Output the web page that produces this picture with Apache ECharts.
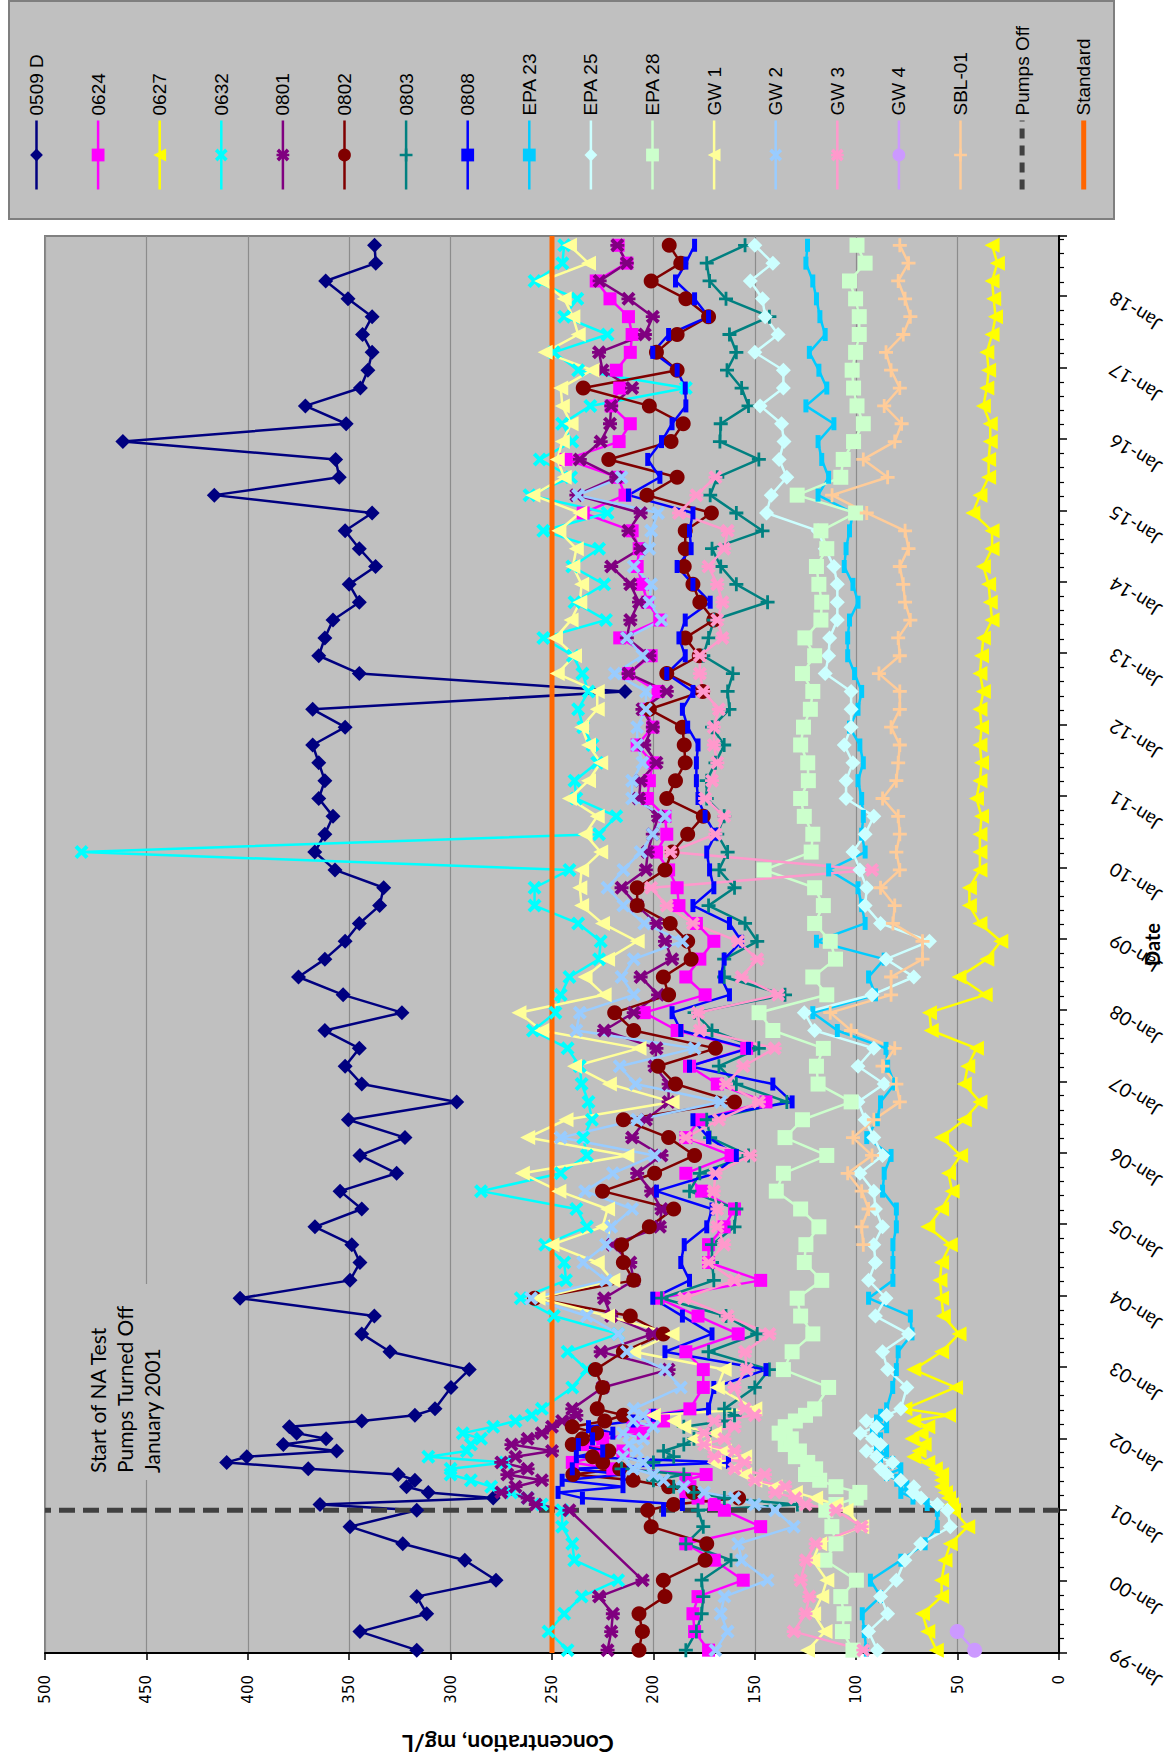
<!DOCTYPE html>
<html><head><meta charset="utf-8">
<script src="https://cdn.jsdelivr.net/npm/echarts/dist/echarts.min.js"></script>
<style>
html,body{margin:0;padding:0;background:#fff;width:1170px;height:1764px;overflow:hidden;}
#chart{position:absolute;left:0;top:0;width:1764px;height:1170px;transform-origin:0 0;transform:translate(0px,1764px) rotate(-90deg);}
</style></head><body><div id="chart"></div>
<script>
// ---- sampling dates (decimal years) ----
const dates = [
 1999.04, 1999.3, 1999.55, 1999.79, 2000.02, 2000.3, 2000.53, 2000.77,
 2001.0, 2001.08, 2001.17, 2001.25, 2001.33, 2001.42, 2001.5, 2001.58, 2001.67, 2001.75, 2001.83, 2001.92, 2002.0, 2002.08, 2002.17, 2002.25, 2002.33, 2002.42,
 2002.72,
 2002.97, 2003.22, 2003.47, 2003.72, 2003.97, 2004.22, 2004.47, 2004.72, 2004.97, 2005.22, 2005.47, 2005.72, 2005.97, 2006.22, 2006.47, 2006.72,
 2006.97, 2007.22, 2007.47, 2007.72, 2007.97, 2008.22, 2008.47, 2008.72, 2008.97, 2009.22, 2009.47, 2009.72, 2009.97, 2010.22, 2010.47, 2010.72,
 2010.97, 2011.22, 2011.47, 2011.72, 2011.97, 2012.22, 2012.47, 2012.72, 2012.97, 2013.22, 2013.47, 2013.72, 2013.97, 2014.22, 2014.47, 2014.72,
 2014.97, 2015.22, 2015.47, 2015.72, 2015.97, 2016.22, 2016.47, 2016.72, 2016.97, 2017.22, 2017.47, 2017.72, 2017.97, 2018.22, 2018.47, 2018.72
];
const yearTicks = {min: 1999, max: 2018.85, interval: 1};
const concTicks = {min: 0, max: 500, interval: 50};
const pumpsOffDate = 2001.0;
const standardValue = 250;

// ---- series values (mg/L), aligned with dates ----
const v0509D = [
 316.7, 344.7, 311.8, 316.7, 277.6, 293, 323.6, 349.6,
 316.7, 364.4, 279, 311, 321.7, 317.6, 325.8, 370.2, 410.4, 400.5, 356.2, 382.5, 361.4, 375.9, 379.5, 343.8, 317.6, 307.7,
 299.8,
 290.8, 329.9, 343.8, 337.6, 403.8, 349.6, 344.7, 348.7, 366.9, 343.8, 354.5, 326.6, 344.7, 322.5, 350.4, 297,
 343.8, 352, 345, 362, 324, 353, 375, 362, 352, 345, 335, 333, 357, 367, 362, 358,
 365, 362, 365, 368, 352, 368, 214, 345, 365, 362, 358, 345, 350, 337, 345, 352,
 338.7, 416.5, 354.9, 356.7, 461.6, 351.5, 371.6, 344.5, 340.8, 338.7, 343.4, 338.7, 350.6, 361.6, 336.9, 337.5
];
const v0624 = [
 172.8, 179.7, 180.5, 178, 155.7, 170, 184, 147.1,
 165, 170, 178, 184, 182, 184, 174, 220, 240, 228, 215, 235, 225, 205, 210, 195, 200, 182,
 175.4,
 175.4, 184, 158.2, 178, 197.7, 147.1, 172.8, 172.8, 165.1, 160, 176.2, 184, 161.7, 184, 177.1, 144.5,
 168.5, 182.2, 154, 188.3, 204.5, 174.5, 184, 177.1, 170.2, 178.8, 187.4, 188.3, 192.5, 198.5, 193.4, 194.3,
 203, 202, 200.3, 208, 200.3, 203.7, 197.7, 212.3, 201.1, 216.6, 196.8, 203, 205.4, 208, 207, 210.5,
 234.6, 214, 217.4, 243.1, 216.9, 211.4, 220.8, 216.6, 218.3, 211.4, 210.5, 212.3, 221.4, 228.2, 213.1, 217.4
];
const v0627 = [
 60.5, 64.7, 67.3, 57.9, 57.9, 56.2, 53.6, 45,
 52, 53, 54.5, 56, 57.9, 57.9, 57.9, 61, 64.7, 71.6, 69, 66.5, 72.5, 68, 64.7, 71.6, 54.5, 76,
 51,
 71.6, 57.9, 49.3, 57, 57.9, 58.7, 57.9, 53.6, 64.7, 57.9, 52.7, 54.5, 48.5, 57.9, 46.7, 39,
 46.7, 45, 40.7, 63, 63.9, 36.4, 49.3, 35.6, 28.7, 39, 44.2, 44.2, 39, 39, 39, 38.2,
 40.7, 39, 38.2, 39, 38.2, 39, 37.3, 39, 38.2, 37.3, 33, 33.9, 34.7, 37.3, 33, 33,
 42.5, 39, 34.7, 34.7, 33.9, 33.9, 37.3, 35.6, 34.7, 35.6, 33, 31.3, 32.2, 33, 30.4, 33
];
const v0632 = [
 242.3, 251.7, 244, 235.4, 217.4, 239, 240, 245,
 245, 255, 262, 270, 280, 290, 300, 300, 273, 311, 292, 290, 285, 294, 279, 268, 260, 255,
 240,
 232.8, 242.3, 217.4, 249.1, 265.4, 243.1, 244, 253.4, 232.8, 238, 285, 245.7, 232.8, 234.6, 230.3, 232,
 235.4, 236.3, 242.3, 259.4, 248.3, 245.7, 241.4, 226.8, 226, 237.1, 258.6, 258.6, 241.4, 482, 226.8, 218.3,
 238, 238.9, 227.7, 230, 234.6, 237.1, 232, 235, 239.7, 254.3, 223.4, 238.9, 224.3, 240, 226.8, 254.3,
 222.6, 261.1, 240.6, 256, 240, 245, 231.1, 184, 237.1, 249.1, 222.6, 244, 237.5, 258.6, 244.9, 244
];
const v0801 = [
 222.6, 220.8, 220, 226.8, 205.4, null, null, null,
 241.4, 258, 262, 275, 268, 255, 272, 262, 275, 268, 250, 270, 262, 255, 250, 245, 238, 240,
 225,
 192.5, 226, 200.3, 220.8, 224.3, 209.7, 211.4, 220, 196.8, 196, 201.1, 208, 196, 210.5, 203.7, 192.5,
 192.5, 199.4, 198.5, 224.3, 209.7, 197.7, 206.3, 190.8, 194.3, 198.5, 208, 215.7, 203.7, 202.8, 200.3, 197.7,
 207.1, 206.3, 198.5, 204.5, 200.3, 205.4, 193.4, 212.3, 202, 213.1, 211.4, 207.1, 211.4, 220.8, 206.3, 212.3,
 206.3, 238, 218.3, 236.3, 226, 221.4, 220.8, 210.5, 225.1, 226.8, 204.2, 200.3, 212.3, 226.5, 213.1, 217.8
];
const v0802 = [
 207.1, 205.4, 207.1, 194.3, 195.1, 174.5, 173.7, 201.1,
 202.8, 190, 158, 180.5, 192.5, 210, 239.7, 216.6, 225, 230, 222, 240, 235, 228, 240, 224, 214.8, 227.7,
 225,
 228.6, 214.8, 195.1, 211.4, 258.6, 209.7, 214.8, 215.7, 202, 190, 225.1, 199.4, 179.7, 192.5, 214.8, 160,
 189.1, 197.7, 169.4, 209.7, 219.1, 192.5, 195.1, 181.4, 183.1, 191.7, 208, 208, 194.3, 190.8, 183.1, 175.4,
 193.4, 189.1, 184.3, 184.8, 185.7, 202, 175.7, 193.4, 177.4, 184.3, 170.2, 177.1, 180.5, 184.8, 184.3, 184.3,
 171.4, 203.2, 188.3, 222, 191.3, 185.3, 202, 234.6, 188.3, 198.5, 188.3, 172.8, 184, 201.1, 186.5, 192.2
];
const v0803 = [
 184, 178.8, 176.2, 175.4, 176.2, 161.7, 184, 175.4,
 178, 129, 165, 180, 190, 200, 185, 215.7, 200, 190, 195, 185, 180, 172, 185, 165, 160, 165,
 150,
 142.8, 172.8, 148.8, 164.2, 196, 170.2, 171.1, 171.1, 160, 159.1, 182.2, 177.1, 153.1, 172, 173.7, 134.2,
 159.1, 167.7, 148, 171.1, 179.7, 135.1, 165.1, 165.1, 148.8, 154.8, 172.8, 160, 167.7, 163.4, 168.5, 165.1,
 173.7, 173.7, 169.4, 165.1, 171.1, 162.5, 163.4, 160.8, 175.4, 172.8, 170.2, 143.7, 159.1, 166.8, 171.1, 146.2,
 159.1, 172, 168.5, 148, 167.2, 166.8, 153.1, 156.5, 163.7, 159.1, 162.5, 142.8, 164.2, 172.3, 173.7, 154.8
];
const v0808 = [
 null, null, null, null, null, null, null, null,
 195, 185.7, 235, 247, 215, 245, 215, 240, 163, 238, 225, 237, 230, 220, 232, 210, 200, 172.8,
 170.2,
 144.5, 194.3, 171.1, 185.7, 200.3, 182.2, 186.5, 184.8, 173.7, 171.1, 198.5, 169.4, 159.1, 172.8, 180.5, 131.6,
 141.1, 182.2, 153.1, 186.5, 190.8, 162.5, 166.8, 165.1, 156.5, 162.5, 180.5, 170.2, 172.3, 173.7, 169.4, 174.5,
 178, 178.8, 178.8, 178, 183.1, 185.7, 180.5, 193.4, 184.3, 187.4, 184.3, 172, 180.5, 188.3, 181.4, 182.2,
 180.5, 212.3, 196.8, 202.8, 196, 190.8, 184, 184.3, 188.3, 200.3, 192.5, 172.8, 179.7, 189.1, 184, 179.7
];
const vEPA23 = [
 95, 96, 97, 88, 93, 78, 66, 60,
 60, 65, 72, 78, 75, 80, 85, 78, 82, 88, 85, 90, 88, 92, 85, 90, 88, 85,
 82,
 80.2, 79.3, 72.5, 73.3, 93.9, 81.9, 81.9, 81.9, 80.2, 80.2, 87, 86.2, 82.8, 94.8, 89.6, 88,
 81, 84.5, 85.3, 109.3, 121.4, 90.5, 93.9, 86.2, 119.6, 95.6, 97.3, 99.1, 113.6, 95.6, 97.3, 96.5,
 97.3, 99.1, 96.5, 98.2, 103.3, 99.1, 97.3, 100.8, 104.2, 104.2, 103.3, 99.1, 101.6, 105.9, 105, 103.3,
 101.6, 118.8, 113.6, 117, 118.8, 111, 124.8, 114.5, 118.4, 123.1, 115.3, 117.9, 119.6, 121.4, 124.8, 124
];
const vEPA25 = [
 89.6, 93.9, 84.5, 88, 80.2, 76, 68.2, 53.6,
 55, 60, 68, 72, 71.6, 78, 85, 88, 82, 90, 95, 88, 92, 98, 90, 95, 85, 78,
 75,
 84.5, 87, 74.2, 90.5, 85.3, 93.9, 90.5, 91.3, 87, 90.5, 91.3, 98.2, 87, 91.3, 95.6, 99.1,
 86.2, 99.1, 91.3, 120.5, 125.6, 92.2, 71.6, 85.3, 63.9, 88, 95.6, 94.8, 98.2, 101.6, 95.6, 91.3,
 105, 105, 101.6, 105.9, 102.5, 102.5, 102.5, 115.3, 113.6, 113.1, 109.3, 109.3, 109.3, 111, 115.3, 118.8,
 144.2, 141.9, 134.2, 138, 135.6, 136.8, 147.4, 135.9, 135.9, 150, 138.5, 144.9, 146.2, 152.2, 141.1, 150
];
const vEPA28 = [
 101.6, 106.8, 106, 107.6, 99.9, 115.4, 110, 112,
 115, 110, 100, 98.2, 110, 118, 125, 120, 123.9, 130, 128, 135, 132, 138, 135, 130, 125, 120.5,
 113.6,
 135.9, 131.6, 121.4, 127.4, 129.1, 117, 125.6, 124.8, 118.4, 127.4, 139.4, 135.9, 114.5, 135.1, 126.5, 102.5,
 118.8, 119.6, 116.2, 141.1, 147.9, 114.5, 121.4, 110.2, 112.8, 120.5, 116.2, 120.5, 145.4, 122.2, 121.4, 125.6,
 127.4, 123.6, 123.9, 127.4, 126, 122.6, 121.4, 126.5, 120.5, 125.3, 117.4, 117, 118.4, 119.6, 114.5, 117.4,
 100.3, 129.1, 107.6, 106.4, 101.3, 96.5, 99.6, 101.3, 102, 100.3, 98.5, 98.5, 100.3, 103.3, 95.6, 99.6
];
const vGW1 = [
 124, 115.4, 121, 117, 114.5, 121.4, 118, 97.3,
 105, 110, 120, 130, 140, 150, 155, 160, 170, 155, 165, 175, 180, 170, 185, 190, 200, 150,
 168.5,
 165.1, 209.7, 190.8, 222.6, 256.9, 220, 227.7, 250, 225.1, 222.6, 246.6, 264.6, 213.1, 262, 243.1, 190.8,
 221.7, 238.9, 207.1, 255.1, 266.3, 224.3, 233.7, 222.6, 208, 225.1, 235.4, 236.3, 235.4, 226, 233.7, 227.7,
 241.4, 232, 226, 232, 235.4, 227.7, 227.7, 247.4, 238.9, 248.3, 240.6, 236.3, 235.4, 239.7, 238, 246.6,
 236.3, 259.4, 244, 247.4, 244.9, 240.6, 244.9, 245.7, 230.3, 253.4, 237.1, 239.7, 244, 255.1, 232, 241.4
];
const vGW2 = [
 169.4, 163.4, 166.8, 165, 143.7, 156.5, 158.2, 130.8,
 140, 150, 160, 175, 185, 195, 200, 210, 205, 215, 208, 212, 205, 215, 200, 210, 205, 209.7,
 186.5,
 194.3, 213.1, 217.4, 232.8, 260.3, 223.4, 234.6, 223.4, 220.8, 210.5, 233.7, 220, 199.4, 245.7, 208, 166.8,
 208.8, 216.6, 179.7, 238, 236.3, 209.7, 215.7, 209.7, 185.7, 204.5, 214.8, 222.6, 214.8, 206.3, 200.3, 194.3,
 210.5, 210.5, 205.4, 208, 208, 203.7, 203.7, 219.1, 205.4, 213.1, 196, 202, 201.1, 209.7, 202, 201.1,
 197.7, 237.1, 215.7
];
const vGW3 = [
 96.5, 130.8, 125, 123.1, 127.4, 124.8, 120, 97.3,
 110, 125, 130, 140, 135, 150, 145, 160, 155, 170, 160, 175, 165, 175, 160, 170, 150, 155,
 160,
 154, 154.8, 142.8, 163.4, 184.8, 160, 172.8, 165.1, 168.5, 168.5, 170.2, 169.4, 152.2, 184, 167.7, 148,
 164.2, 155.7, 140.2, 177.1, 178, 138.5, 156.5, 148.8, 158.2, 180.5, 193.4, 201.1, 92.2, 191.7, 169.4, 165.1,
 174.5, 171.1, 168.5, 170.2, 170.2, 167.7, 175.4, 177.1, 177.1, 166, 168.5, 166, 168.5, 172.8, 165.1, 163.4,
 187.4, 178.8, 169.4
];
const vGW4 = [41.6, 50.2];
const vSBL01 = [
 null, null, null, null, null, null, null, null,
 null, null, null, null, null, null, null, null, null, null, null, null, null, null, null, null, null, null,
 null,
 null, null, null, null, null, null, null, 96.5, 97.3, 93.9, 97.3, 104.2, 92.2, 101.6, 91.3, 78.5,
 80.2, 87, 81, 102.5, 112.8, 82.8, 82.8, 67.3, 67.3, 81.9, 81, 88, 78.5, 80.2, 78.5, 79.3,
 87, 80.2, 79.3, 78.5, 82.8, 78.5, 78.5, 88.8, 78.5, 79.3, 73.3, 75.9, 76.8, 78.5, 74.2, 75.9,
 94.8, 111.9, 84.5, 96.5, 81, 77.6, 86.2, 78.5, 82.8, 85.3, 76.8, 73.3, 75.9, 79.3, 74.2, 78.5
];

// ---- marker shapes ----
const X_SYM = 'path://M0,2L2,0L5,3L8,0L10,2L7,5L10,8L8,10L5,7L2,10L0,8L3,5Z';
const AST_SYM = 'path://M0,2L2,0L5,3L8,0L10,2L7,5L10,8L8,10L5,7L2,10L0,8L3,5Z M4,0L6,0L6,10L4,10Z';
const PLUS_SYM = 'path://M4,0L6,0L6,4L10,4L10,6L6,6L6,10L4,10L4,6L0,6L0,4L4,4Z';

const defs = [
 {name: '0509 D', values: v0509D, color: '#000080', symbol: 'diamond', size: 15},
 {name: '0624', values: v0624, color: '#ff00ff', symbol: 'rect', size: 13},
 {name: '0627', values: v0627, color: '#ffff00', symbol: 'triangle', size: 15},
 {name: '0632', values: v0632, color: '#00ffff', symbol: X_SYM, size: 14},
 {name: '0801', values: v0801, color: '#800080', symbol: AST_SYM, size: 14},
 {name: '0802', values: v0802, color: '#800000', symbol: 'circle', size: 15},
 {name: '0803', values: v0803, color: '#008080', symbol: PLUS_SYM, size: 14},
 {name: '0808', values: v0808, color: '#0000ff', symbol: 'rect', size: [13, 5]},
 {name: 'EPA 23', values: vEPA23, color: '#00ccff', symbol: 'rect', size: [13, 5]},
 {name: 'EPA 25', values: vEPA25, color: '#ccffff', symbol: 'diamond', size: 15},
 {name: 'EPA 28', values: vEPA28, color: '#ccffcc', symbol: 'rect', size: 15},
 {name: 'GW 1', values: vGW1, color: '#ffff99', symbol: 'triangle', size: 15},
 {name: 'GW 2', values: vGW2, color: '#99ccff', symbol: X_SYM, size: 14},
 {name: 'GW 3', values: vGW3, color: '#ff99cc', symbol: AST_SYM, size: 14},
 {name: 'GW 4', values: vGW4, color: '#cc99ff', symbol: 'circle', size: 15},
 {name: 'SBL-01', values: vSBL01, color: '#ffcc99', symbol: PLUS_SYM, size: 14}
];

const series = defs.map(d => ({
  name: d.name, type: 'line',
  data: d.values.map((v, i) => [dates[i], v]),
  connectNulls: true, symbol: d.symbol, symbolSize: d.size,
  lineStyle: {color: d.color, width: 2.5},
  itemStyle: {color: d.color},
  emphasis: {disabled: true}
}));
const pumpsStyle = {color: '#404040', width: 5, type: [16, 8]};
const standardStyle = {color: '#ff6600', width: 5};
series.push({
  name: 'Pumps Off', type: 'line', symbol: 'none',
  data: [[pumpsOffDate, concTicks.min], [pumpsOffDate, concTicks.max]],
  lineStyle: pumpsStyle, itemStyle: {color: 'rgba(0,0,0,0)'}
});
series.push({
  name: 'Standard', type: 'line', symbol: 'none',
  data: [[yearTicks.min, standardValue], [yearTicks.max, standardValue]],
  lineStyle: standardStyle, itemStyle: {color: 'rgba(0,0,0,0)'}
});

const legendData = defs.map(d => ({name: d.name, lineStyle: {width: 2.5}}))
  .concat([
    {name: 'Pumps Off', lineStyle: {width: 5, type: [10, 7], color: '#404040'}, itemStyle: {opacity: 0}},
    {name: 'Standard', lineStyle: {width: 5, color: '#ff6600'}, itemStyle: {opacity: 0}}
  ]);

const chart = echarts.init(document.getElementById('chart'), null, {renderer: 'svg', width: 1764, height: 1170});
chart.setOption({
  animation: false,
  backgroundColor: '#ffffff',
  textStyle: {fontFamily: 'Liberation Sans'},
  grid: {left: 111, right: 236, top: 45, bottom: 111, containLabel: false, outerBoundsMode: 'none',
         show: true, backgroundColor: '#c0c0c0', borderColor: '#808080', borderWidth: 2},
  xAxis: {
    type: 'value', min: yearTicks.min, max: yearTicks.max, interval: yearTicks.interval,
    name: 'Date', nameLocation: 'middle', nameGap: 83, nameMoveOverlap: false,
    nameTextStyle: {fontFamily: 'Lato', fontWeight: 'bold', fontSize: 20, lineHeight: 20, color: '#000'},
    axisLine: {show: true, lineStyle: {color: '#000', width: 2}},
    axisTick: {show: true, length: 8, lineStyle: {color: '#000', width: 1.5}},
    minorTick: {show: true, splitNumber: 5, length: 5, lineStyle: {color: '#000', width: 1.2}},
    splitLine: {show: false},
    axisLabel: {
      rotate: 58, margin: 52, fontFamily: 'Lato', fontSize: 19, color: '#000', showMaxLabel: false,
      formatter: v => { const y = Math.round(v); if (Math.abs(v - y) > 0.01) return ''; return 'Jan-' + String(y % 100).padStart(2, '0'); }
    }
  },
  yAxis: {
    type: 'value', min: concTicks.min, max: concTicks.max, interval: concTicks.interval,
    axisLine: {show: true, lineStyle: {color: '#000', width: 2}},
    axisTick: {show: true, length: 7, lineStyle: {color: '#000', width: 1.5}},
    splitLine: {show: true, lineStyle: {color: '#8c8c8c', width: 1.2}},
    axisLabel: {margin: 22, fontFamily: 'DejaVu Sans', fontSize: 15, color: '#000'}
  },
  legend: {
    orient: 'vertical', left: 1572, top: 27, padding: 0,
    itemWidth: 69, itemHeight: 16, itemGap: 42.6,
    textStyle: {fontFamily: 'Liberation Sans', fontSize: 19, color: '#000'},
    data: legendData
  },
  graphic: [
    {type: 'rect', z: -1, shape: {x: 1545, y: 9, width: 218, height: 1105}, style: {fill: '#c0c0c0', stroke: '#7f7f7f', lineWidth: 2}},
    {type: 'rect', z: 1, shape: {x: 284, y: 80, width: 196, height: 90}, style: {fill: '#c0c0c0'}},
    {type: 'text', z: 3, x: 291, y: 84, style: {text: 'Start of NA Test\nPumps Turned Off\nJanuary 2001', font: '21px Lato', lineHeight: 27, fill: '#000', textAlign: 'left', textVerticalAlign: 'top'}},
    {type: 'text', z: 3, x: 20, y: 508, rotation: Math.PI / 2, style: {text: 'Concentration, mg/L', font: 'bold 23px Lato', fill: '#000', textAlign: 'center', textVerticalAlign: 'middle'}}
  ],
  series: series
});
</script>
</body></html>
